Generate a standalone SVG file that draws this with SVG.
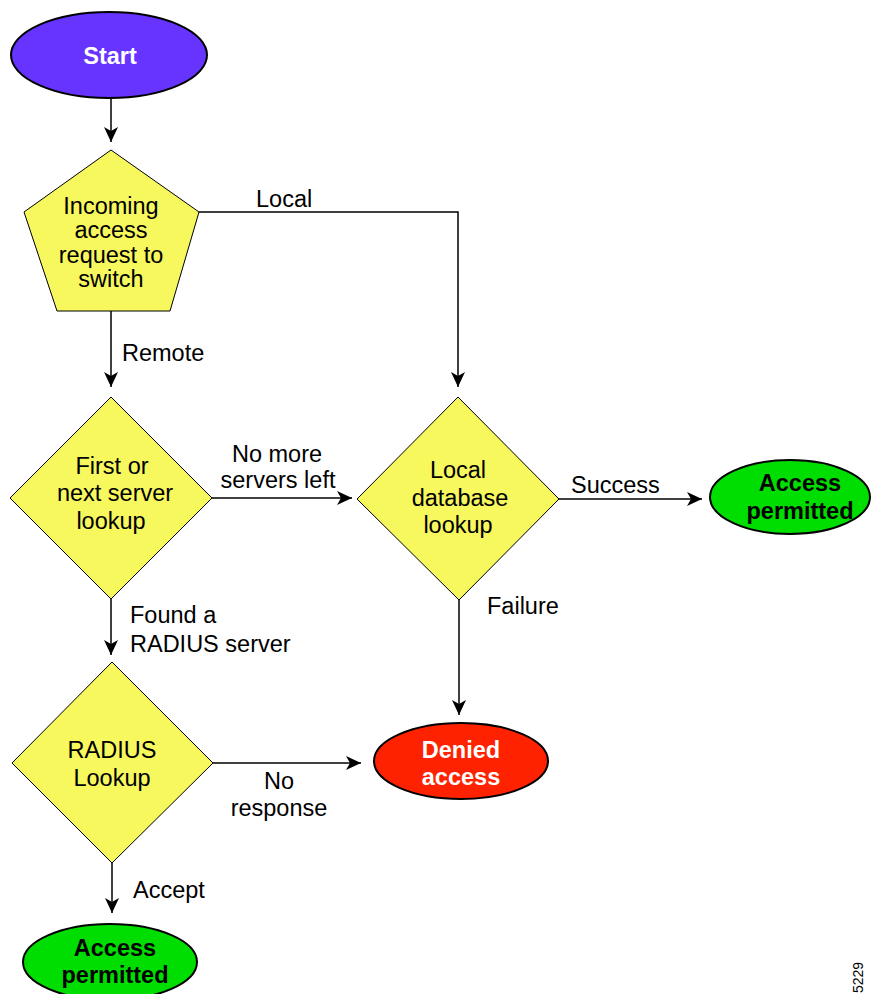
<svg xmlns="http://www.w3.org/2000/svg" width="871" height="994" viewBox="0 0 871 994">
<defs>
<marker id="ah" markerUnits="userSpaceOnUse" markerWidth="16" markerHeight="14" viewBox="0 0 16 14" refX="15" refY="7" orient="auto">
<path d="M0,0 L15,7 L0,14 L4,7 z" fill="#000"/>
</marker>
<style>
.t{font-family:"Liberation Sans",Arial,Helvetica,sans-serif;font-size:23.5px;fill:#000}
.c{text-anchor:middle}
.b{font-weight:bold}
.w{fill:#fff}
.dec{fill:#F7F75E;stroke:#000;stroke-width:1}
.ell{stroke:#000;stroke-width:2}
.ln{fill:none;stroke:#000;stroke-width:1.5}
.arr{fill:none;stroke:#000;stroke-width:1.5;marker-end:url(#ah)}
</style>
</defs>
<rect width="871" height="994" fill="#fff"/>
<g id="connectors">
<line class="arr" x1="111" y1="98" x2="111" y2="142"/>
<polyline class="arr" points="199,212 458,212 458,387"/>
<line class="arr" x1="111" y1="311" x2="111" y2="387"/>
<line class="arr" x1="212" y1="498" x2="352" y2="498"/>
<line class="arr" x1="559" y1="499" x2="702" y2="499"/>
<line class="arr" x1="459" y1="600" x2="459" y2="715"/>
<line class="arr" x1="111" y1="599" x2="111" y2="655"/>
<line class="arr" x1="213" y1="763" x2="361" y2="763"/>
<line class="arr" x1="112" y1="863" x2="112" y2="913"/>
<text class="t" x="256" y="207">Local</text>
<text class="t" x="122" y="361">Remote</text>
<text class="t c" x="277" y="462">No more</text>
<text class="t c" x="278" y="488">servers left</text>
<text class="t" x="571" y="493">Success</text>
<text class="t" x="487" y="614">Failure</text>
<text class="t" x="130" y="623">Found a</text>
<text class="t" x="130" y="652">RADIUS server</text>
<text class="t c" x="279" y="789">No</text>
<text class="t c" x="279" y="816">response</text>
<text class="t" x="133" y="898">Accept</text>
</g>
<g id="start">
<ellipse class="ell" cx="109" cy="55" rx="98" ry="43" fill="#6633FF"/>
<text class="t c b w" x="110" y="64">Start</text>
</g>
<g id="incoming">
<polygon class="dec" points="111,150 199,212 170,311 57,311 24,212"/>
<text class="t c" x="111" y="214">Incoming</text>
<text class="t c" x="111" y="238">access</text>
<text class="t c" x="111" y="263">request to</text>
<text class="t c" x="111" y="287">switch</text>
</g>
<g id="server-lookup">
<polygon class="dec" points="111,397 212,498 111,599 10,498"/>
<text class="t c" x="112" y="474">First or</text>
<text class="t c" x="115" y="501">next server</text>
<text class="t c" x="111" y="529">lookup</text>
</g>
<g id="local-db">
<polygon class="dec" points="458,397 559,499 459,600 357,499"/>
<text class="t c" x="458" y="478">Local</text>
<text class="t c" x="460" y="506">database</text>
<text class="t c" x="458" y="533">lookup</text>
</g>
<g id="permitted-1">
<ellipse class="ell" cx="790" cy="497" rx="80" ry="37" fill="#00DD00"/>
<text class="t c b" x="800" y="491">Access</text>
<text class="t c b" x="800" y="519">permitted</text>
</g>
<g id="radius-lookup">
<polygon class="dec" points="112,662 213,763 112,863 12,763"/>
<text class="t c" x="112" y="758">RADIUS</text>
<text class="t c" x="112" y="786">Lookup</text>
</g>
<g id="denied">
<ellipse class="ell" cx="461" cy="761" rx="87" ry="38" fill="#FF2200"/>
<text class="t c b w" x="461" y="758">Denied</text>
<text class="t c b w" x="461" y="785">access</text>
</g>
<g id="permitted-2">
<ellipse class="ell" cx="110" cy="962" rx="87" ry="38" fill="#00DD00"/>
<text class="t c b" x="115" y="956">Access</text>
<text class="t c b" x="115" y="983">permitted</text>
</g>
<text transform="translate(863,993) rotate(-90)" style="font-family:'Liberation Sans',Arial,sans-serif;font-size:14px;fill:#000">5229</text>
</svg>
